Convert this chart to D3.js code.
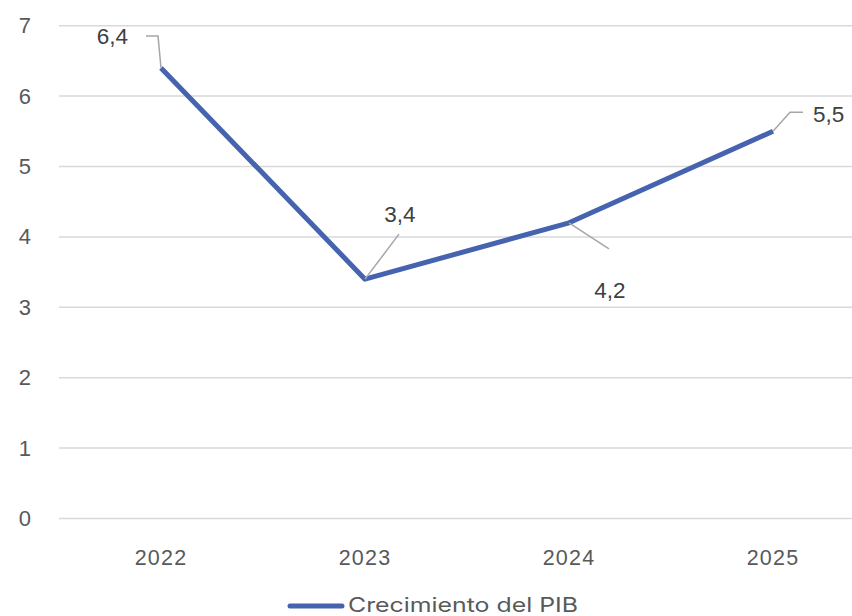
<!DOCTYPE html>
<html><head><meta charset="utf-8">
<script src="https://cdn.jsdelivr.net/npm/d3@7"></script>
<style>html,body{margin:0;padding:0;background:#fff;}svg{display:block;}</style>
</head><body>
<svg id="c" width="852" height="616"></svg>
<script>
const years = ["2022","2023","2024","2025"];
const growth = [6.4, 3.4, 4.2, 5.5];
const yTicks = [0,1,2,3,4,5,6,7];
const seriesName = "Crecimiento del PIB";

// label leader layout (pixel offsets relative to point)
const labelLayout = [
  {pts:[[0,0],[-3,-32],[-15,-32]], tx:-33, ty:-24, anchor:"end"},
  {pts:[[0,0],[34,-45]], tx:35, ty:-57, anchor:"middle"},
  {pts:[[0,0],[40,26]], tx:41, ty:75, anchor:"middle"},
  {pts:[[0,0],[17,-19],[30,-19]], tx:40, ty:-9, anchor:"start"}
];

const svg = d3.select("#c");
const x = d3.scalePoint().domain(years).range([59, 875]).padding(0.5);
const y = d3.scaleLinear().domain([0,7]).range([518.5, 25.7]);

const font = "'Liberation Sans', Arial, sans-serif";

svg.append("g").selectAll("line").data(yTicks).join("line")
  .attr("x1",59).attr("x2",852)
  .attr("y1",d=>y(d)).attr("y2",d=>y(d))
  .attr("stroke","#d9d9d9").attr("stroke-width",1.5);

svg.append("g").selectAll("text").data(yTicks).join("text")
  .attr("x",31).attr("y",d=>y(d)+7.5)
  .attr("text-anchor","end").attr("font-family",font).attr("font-size",22)
  .attr("fill","#595959").text(d=>d);

svg.append("g").selectAll("text").data(years).join("text")
  .attr("x",d=>x(d)).attr("y",565)
  .attr("text-anchor","middle").attr("font-family",font).attr("font-size",21.5)
  .attr("letter-spacing",1.2)
  .attr("fill","#595959").text(d=>d);

const pts = years.map((d,i)=>[x(d), y(growth[i])]);
svg.append("path").datum(pts)
  .attr("d", d3.line())
  .attr("fill","none").attr("stroke","#4563ae").attr("stroke-width",5)
  .attr("stroke-linejoin","round");

const lab = svg.append("g");
pts.forEach((p,i)=>{
  const L = labelLayout[i];
  lab.append("polyline")
    .attr("points", L.pts.map(q=>[p[0]+q[0], p[1]+q[1]].join(",")).join(" "))
    .attr("fill","none").attr("stroke","#a6a6a6").attr("stroke-width",1.5);
  lab.append("text")
    .attr("x", p[0]+L.tx).attr("y", p[1]+L.ty)
    .attr("text-anchor", L.anchor).attr("font-family",font).attr("font-size",22.5)
    .attr("fill","#404040").text(String(growth[i]).replace(".",","));
});

svg.append("line").attr("x1",290).attr("x2",342).attr("y1",606).attr("y2",606)
  .attr("stroke","#4563ae").attr("stroke-width",5).attr("stroke-linecap","round");
svg.append("text").attr("x",348).attr("y",612)
  .attr("font-family","Inter, 'Noto Sans', sans-serif").attr("font-size",20)
  .attr("textLength",230).attr("lengthAdjust","spacingAndGlyphs")
  .attr("fill","#595959").text(seriesName);
</script>
</body></html>
